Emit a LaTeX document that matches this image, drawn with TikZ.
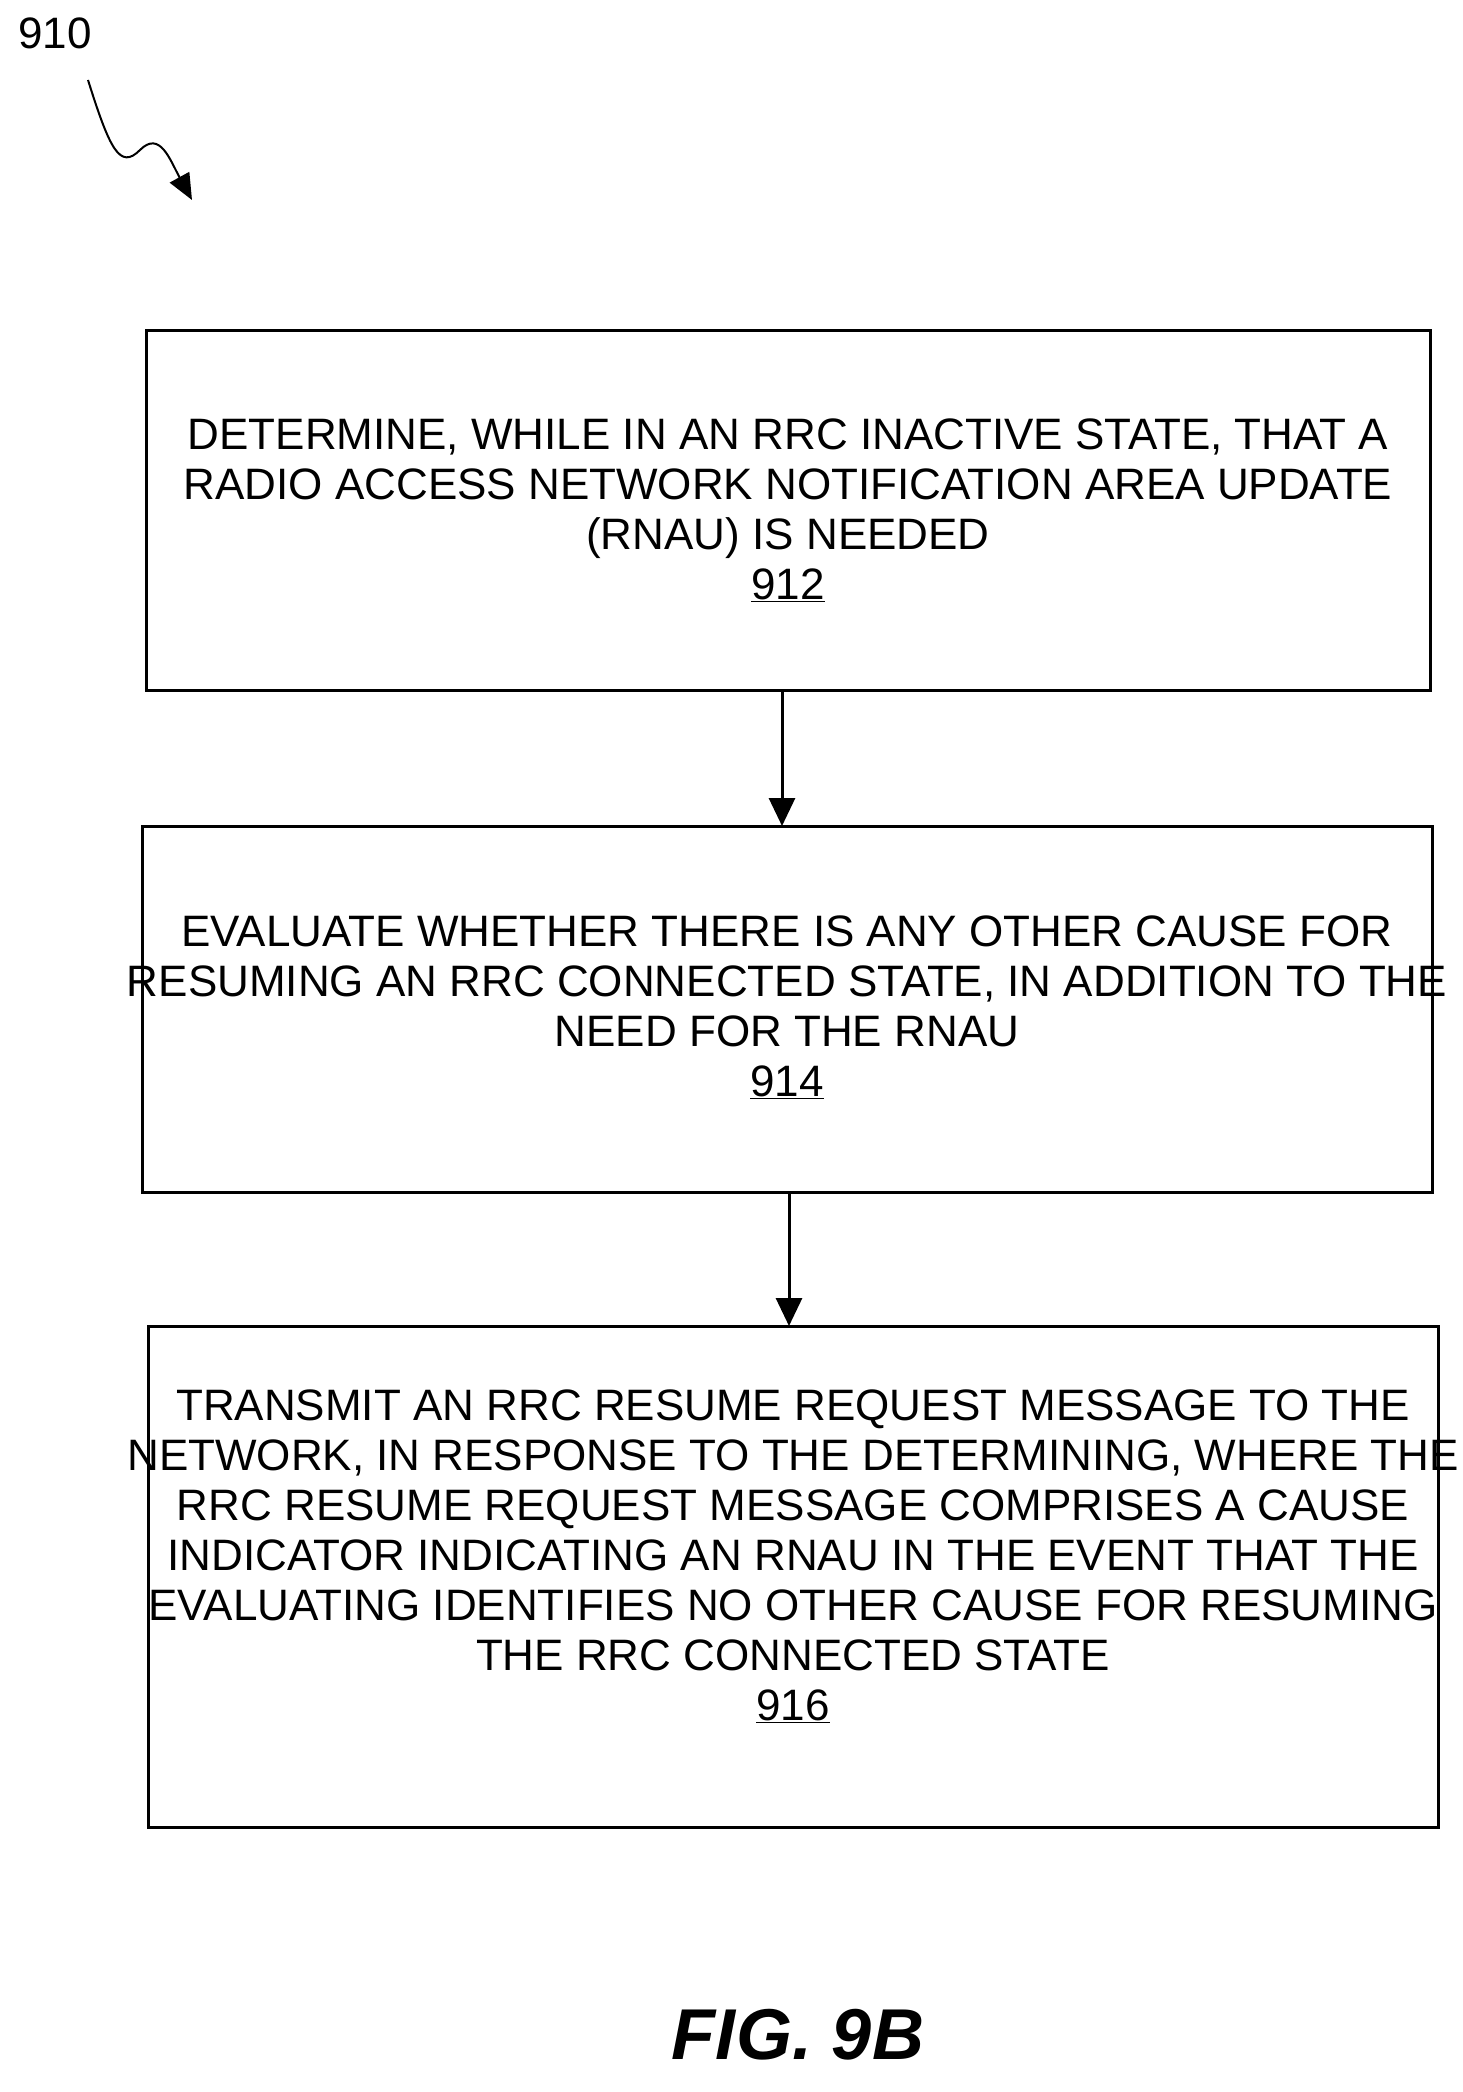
\documentclass[tikz,border=0pt]{standalone}
\usepackage{fontspec}
\setmainfont{Liberation Sans}
\usetikzlibrary{arrows.meta,decorations.pathmorphing}
\begin{document}
\begin{tikzpicture}[x=1pt,y=-1pt,
 box/.style={draw,line width=3pt},
 txt/.style={align=center,font=\fontsize{44}{50}\selectfont,inner sep=0},
 arr/.style={line width=3pt,-{Triangle[length=28pt,width=26pt]}}]
\useasboundingbox (0,0) rectangle (1463,2092);
\node[txt,anchor=north west] (lab) at (18,18) {910};
\coordinate (s0) at (88,80);
\coordinate (s1) at (192,200);
\draw[line width=2pt,-{Triangle[length=26pt,width=22pt]}] (s0) .. controls (110,150) and (120,170) .. (140,150) .. controls (160,130) and (170,160) .. (s1);
\draw[box] (146,330) rectangle (1430,690) coordinate (b1c);
\node (b1) at (788,510) {};
\node[txt] (t1) at (788,510) {DETERMINE, WHILE IN AN RRC INACTIVE STATE, THAT A\\RADIO ACCESS NETWORK NOTIFICATION AREA UPDATE\\(RNAU) IS NEEDED\\\underline{912}};
\draw[box] (142,826) rectangle (1432,1192);
\node[txt] (t2) at (787,1007) {EVALUATE WHETHER THERE IS ANY OTHER CAUSE FOR\\RESUMING AN RRC CONNECTED STATE, IN ADDITION TO THE\\NEED FOR THE RNAU\\\underline{914}};
\draw[box] (148,1326) rectangle (1438,1827);
\node[txt] (t3) at (793,1556) {TRANSMIT AN RRC RESUME REQUEST MESSAGE TO THE\\NETWORK, IN RESPONSE TO THE DETERMINING, WHERE THE\\RRC RESUME REQUEST MESSAGE COMPRISES A CAUSE\\INDICATOR INDICATING AN RNAU IN THE EVENT THAT THE\\EVALUATING IDENTIFIES NO OTHER CAUSE FOR RESUMING\\THE RRC CONNECTED STATE\\\underline{916}};
\coordinate (a1s) at (782,690); \coordinate (a1e) at (782,826);
\coordinate (a2s) at (789,1192); \coordinate (a2e) at (789,1326);
\draw[arr] (a1s) -- (a1e);
\draw[arr] (a2s) -- (a2e);
\node[font=\fontsize{72}{80}\selectfont\bfseries\itshape] (fig) at (798,2035) {FIG. 9B};
\end{tikzpicture}
\end{document}
